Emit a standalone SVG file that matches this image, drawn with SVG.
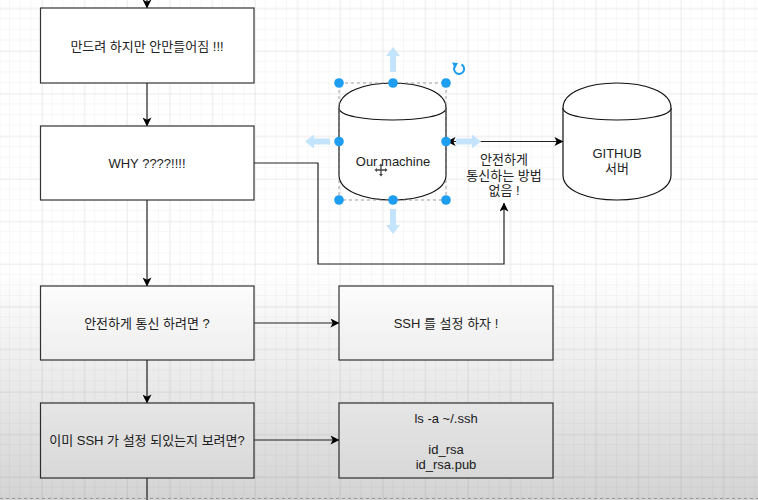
<svg xmlns="http://www.w3.org/2000/svg" width="758" height="500" viewBox="0 0 758 500">
<defs>
<pattern id="minor" x="-0.7" y="8.5" width="10.65" height="10.65" patternUnits="userSpaceOnUse">
<path d="M10.65 0V10.65M0 10.65H10.65" fill="none" stroke="#f0f0f0" stroke-width="1"/>
</pattern>
<pattern id="major" x="-0.7" y="8.5" width="42.6" height="42.6" patternUnits="userSpaceOnUse">
<path d="M0 0V42.6M0 0H42.6" fill="none" stroke="#e2e2e2" stroke-width="1"/>
</pattern>
<linearGradient id="shade" x1="0" y1="0" x2="0" y2="1">
<stop offset="0" stop-color="#000" stop-opacity="0"/>
<stop offset="1" stop-color="#000" stop-opacity="0.17"/>
</linearGradient>
<marker id="arr" viewBox="0 0 10 10" refX="9.5" refY="5" markerWidth="9" markerHeight="9" markerUnits="userSpaceOnUse" orient="auto">
<path d="M0 0L10 5L0 10L2.5 5Z" fill="#000"/>
</marker>
<marker id="arrs" viewBox="0 0 10 10" refX="0.5" refY="5" markerWidth="9" markerHeight="9" markerUnits="userSpaceOnUse" orient="auto">
<path d="M10 0L0 5L10 10L7.5 5Z" fill="#000"/>
</marker>
</defs>
<style>
.box{fill:#fff;stroke:#333;stroke-width:1.2}
.cyl{fill:#fff;stroke:#111;stroke-width:1.2}
.edge{fill:none;stroke:#222;stroke-width:1.2}
.t{font-family:"Liberation Sans","Noto Sans CJK KR",sans-serif;font-size:13px;fill:#222;text-anchor:middle;dominant-baseline:central}
.h{fill:#1e9ef0}
.ha{fill:#c4e4fb}
</style>
<rect width="758" height="500" fill="#fff"/>
<rect width="758" height="500" fill="url(#minor)"/>
<rect width="758" height="500" fill="url(#major)"/>

<g id="connectors">
<path class="edge" d="M147 0V8" marker-end="url(#arr)"/>
<path class="edge" d="M147 83V126" marker-end="url(#arr)"/>
<path class="edge" d="M147 200V286" marker-end="url(#arr)"/>
<path class="edge" d="M147 360V403" marker-end="url(#arr)"/>
<path class="edge" d="M147 478V500"/>
<path class="edge" d="M254 323H339" marker-end="url(#arr)"/>
<path class="edge" d="M254 440H339" marker-end="url(#arr)"/>
<path class="edge" d="M254 163H318V264H504V203" marker-end="url(#arr)"/>
<path class="edge" d="M447 141.5H563" marker-start="url(#arrs)" marker-end="url(#arr)"/>
</g>

<g id="n1"><rect class="box" x="40.5" y="8" width="213.5" height="75"/><text class="t" x="147" y="46">만드려 하지만 안만들어짐 !!!</text></g>
<g id="n2"><rect class="box" x="40.5" y="126" width="213.5" height="74"/><text class="t" x="147" y="163">WHY ????!!!!</text></g>
<g id="n3"><rect class="box" x="40.5" y="286" width="213.5" height="74"/><text class="t" x="147" y="323">안전하게 통신 하려면 ?</text></g>
<g id="n4"><rect class="box" x="40.5" y="403" width="213.5" height="75"/><text class="t" x="147" y="440">이미 SSH 가 설정 되있는지 보려면?</text></g>
<g id="n5"><rect class="box" x="339" y="286" width="214" height="74"/><text class="t" x="446" y="323">SSH 를 설정 하자 !</text></g>
<g id="n6"><rect class="box" x="339" y="403" width="214" height="75"/>
<text class="t" x="446" y="418">ls -a ~/.ssh</text>
<text class="t" x="446" y="449">id_rsa</text>
<text class="t" x="446" y="464">id_rsa.pub</text></g>

<g id="ourmachine">
<path class="cyl" d="M339 108C339 74.7 446 74.7 446 108L446 175C446 208.3 339 208.3 339 175Z"/>
<path class="cyl" fill="none" d="M339 108C339 124 446 124 446 108"/>
<text class="t" x="393" y="161">Our machine</text>
</g>

<g id="github">
<path class="cyl" d="M563 108C563 74.7 671 74.7 671 108L671 175C671 208.3 563 208.3 563 175Z"/>
<path class="cyl" fill="none" d="M563 108C563 124 671 124 671 108"/>
<text class="t" x="617" y="153">GITHUB</text>
<text class="t" x="617" y="168">서버</text>
</g>

<g id="label">
<text class="t" x="504" y="159">안전하게</text>
<text class="t" x="504" y="175">통신하는 방법</text>
<text class="t" x="504" y="190">없음 !</text>
</g>

<g id="selection">
<rect x="339" y="83" width="107" height="117" fill="none" stroke="#888" stroke-width="0.8" stroke-dasharray="3 3"/>
<path class="ha" d="M393 47L400 56H396V72H390V56H386Z"/>
<path class="ha" d="M393 234L400 225H396V209H390V225H386Z"/>
<path class="ha" d="M305 141.5L314 134.5V138.5H330V144.5H314V148.5Z"/>
<path class="ha" d="M481 141.5L472 134.5V138.5H456V144.5H472V148.5Z"/>
<circle class="h" cx="339" cy="83" r="4.8"/>
<circle class="h" cx="393" cy="83" r="4.8"/>
<circle class="h" cx="446" cy="83" r="4.8"/>
<circle class="h" cx="339" cy="141.5" r="4.8"/>
<circle class="h" cx="446" cy="141.5" r="4.8"/>
<circle class="h" cx="339" cy="200" r="4.8"/>
<circle class="h" cx="393" cy="200" r="4.8"/>
<circle class="h" cx="446" cy="200" r="4.8"/>
<path d="M461.5 64.5A5 5 0 1 1 455 66" fill="none" stroke="#1e9ef0" stroke-width="2"/>
<path d="M452 62.5L458 63L455 68.5Z" fill="#1e9ef0"/>
<path d="M381 165V175M376 170H386" stroke="#444" stroke-width="1.3"/>
<path d="M381 163.5L379 166H383ZM381 176.5L379 174H383ZM374.5 170L377 168V172ZM387.5 170L385 168V172Z" fill="#444"/>
</g>

<rect y="270" width="758" height="230" fill="url(#shade)"/>
<path d="M0 498.5H758" stroke="#999" stroke-width="1" stroke-dasharray="3 3"/>
</svg>
